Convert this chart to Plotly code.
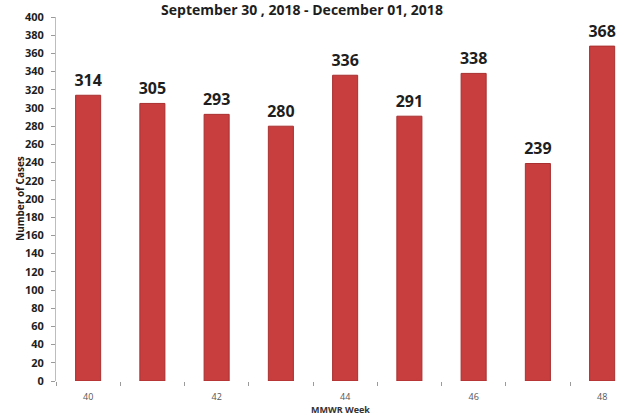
import plotly.graph_objects as go

# Weekly case counts by MMWR week
weeks = ["40", "41", "42", "43", "44", "45", "46", "47", "48"]
cases = [314, 305, 293, 280, 336, 291, 338, 239, 368]
week_labels = ["40", "", "42", "", "44", "", "46", "", "48"]
y_ticks = list(range(0, 401, 20))

title_text = "September 30 , 2018 - December 01, 2018"
x_title = "MMWR Week"
y_title = "Number of Cases"

BAR_RED = "#c83d3d"
BAR_EDGE = "#a83030"
DARK = "#1e1e1e"
FONT = "Open Sans"

fig = go.Figure()
fig.add_trace(go.Bar(
    x=weeks,
    y=cases,
    width=0.39,
    marker=dict(color=BAR_RED, line=dict(color=BAR_EDGE, width=1)),
    hoverinfo="x+y",
))

# value labels above each bar (invisible marker pushes the text up a little)
fig.add_trace(go.Scatter(
    x=weeks,
    y=cases,
    mode="markers+text",
    text=[f"<b>{c}</b>" for c in cases],
    textposition="top center",
    marker=dict(size=7, opacity=0),
    textfont=dict(family=FONT, size=16, color=DARK),
    hoverinfo="skip",
    cliponaxis=False,
))

# axis titles
fig.add_annotation(
    xref="paper", yref="paper", x=0, y=0.5, xshift=-36,
    text=f"<b>{y_title}</b>", textangle=-90, showarrow=False,
    xanchor="center", yanchor="middle",
    font=dict(family=FONT, size=10, color=DARK),
)
fig.add_annotation(
    xref="paper", yref="paper", x=0.5, y=0, yshift=-28,
    text=f"<b>{x_title}</b>", showarrow=False,
    xanchor="center", yanchor="middle",
    font=dict(family=FONT, size=9, color="#333333"),
)

fig.update_layout(
    width=625, height=415,
    margin=dict(l=56, r=0, t=17, b=34),
    paper_bgcolor="white", plot_bgcolor="white",
    showlegend=False,
    title=dict(
        text=f"<b>{title_text}</b>",
        x=302 / 625, xref="container", xanchor="center",
        y=1 - 10 / 415, yref="container", yanchor="middle",
        font=dict(family=FONT, size=14, color=DARK),
    ),
    xaxis=dict(
        type="category",
        range=[-0.5, 8.356],
        tickmode="array", tickvals=weeks, ticktext=week_labels,
        tickson="boundaries", ticks="outside", ticklen=4,
        tickcolor="#9a9a9a", tickwidth=1,
        showline=False, showgrid=False, zeroline=False,
        ticklabelstandoff=9,
        tickfont=dict(family=FONT, size=9, color="#555555"),
    ),
    yaxis=dict(
        range=[0, 400],
        tickmode="array", tickvals=y_ticks,
        ticks="outside", ticklen=4, tickcolor="#9a9a9a", tickwidth=1,
        showline=True, linecolor="#bdbdbd", linewidth=1,
        showgrid=False, zeroline=False,
        ticklabelstandoff=5,
        tickfont=dict(family=FONT, size=11, color=DARK, weight="bold"),
    ),
)

fig.write_html("out.html")
